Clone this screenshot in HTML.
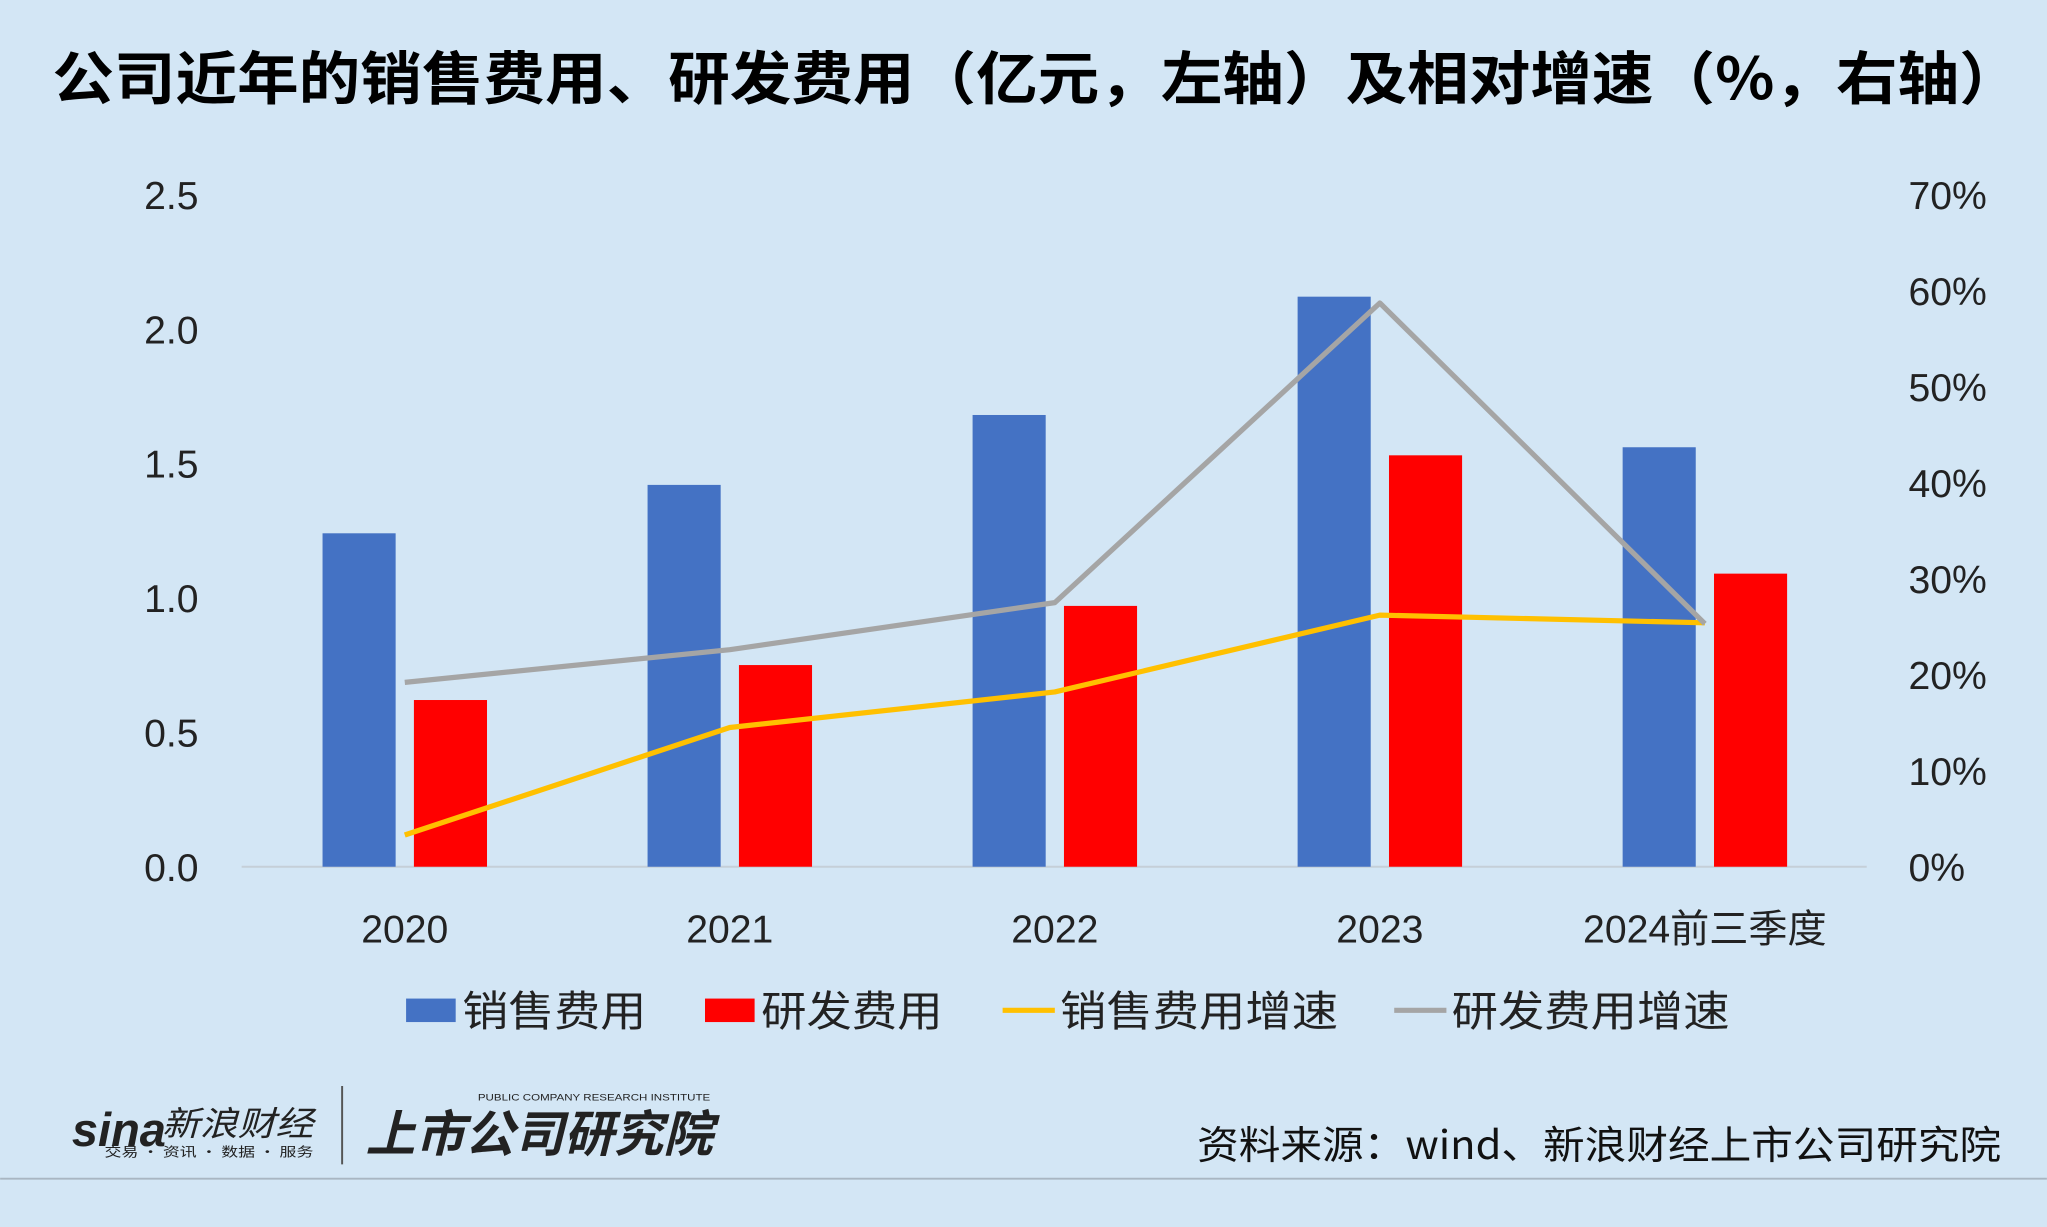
<!DOCTYPE html>
<html><head><meta charset="utf-8">
<style>
html,body{margin:0;padding:0;background:#d3e6f5;}
svg{display:block;font-family:"Liberation Sans","Noto Sans CJK SC",sans-serif;}
</style></head>
<body>
<svg id="chart" width="2047" height="1227" viewBox="0 0 1568 940" xmlns="http://www.w3.org/2000/svg">
<rect x="0" y="0" width="1568" height="940" fill="#d3e6f5"/>
<text x="40" y="76" textLength="1508" lengthAdjust="spacingAndGlyphs" font-size="44" font-weight="bold" fill="#000" font-family="'Noto Sans CJK SC',sans-serif">公司近年的销售费用、研发费用（亿元，左轴）及相对增速（%，右轴）</text>
<g id="plot"></g>
<g font-size="32" font-family="'Noto Sans CJK SC',sans-serif" fill="#222">
  <rect x="311" y="765" width="38" height="18" fill="#4472c4"/>
  <text x="354" y="786" textLength="141" lengthAdjust="spacingAndGlyphs">销售费用</text>
  <rect x="540" y="765" width="38" height="18" fill="#ff0000"/>
  <text x="583" y="786" textLength="139" lengthAdjust="spacingAndGlyphs">研发费用</text>
  <line x1="768" y1="774" x2="808" y2="774" stroke="#ffc000" stroke-width="4"/>
  <text x="812" y="786" textLength="213" lengthAdjust="spacingAndGlyphs">销售费用增速</text>
  <line x1="1068" y1="774" x2="1108" y2="774" stroke="#a5a5a5" stroke-width="4"/>
  <text x="1112" y="786" textLength="213" lengthAdjust="spacingAndGlyphs">研发费用增速</text>
</g>
<line x1="0" y1="903" x2="1568" y2="903" stroke="#a9b6c2" stroke-width="1.5"/>
<text x="55" y="878" font-size="36" font-weight="bold" font-style="italic" fill="#222">sina</text>
<text x="124" y="870" textLength="116" lengthAdjust="spacingAndGlyphs" font-size="26" font-style="italic" fill="#222" font-family="'Noto Sans CJK SC',sans-serif">新浪财经</text>
<text x="80" y="886" textLength="160" lengthAdjust="spacingAndGlyphs" font-size="10" fill="#222" font-family="'Noto Sans CJK SC',sans-serif">交易 · 资讯 · 数据 · 服务</text>
<line x1="262" y1="832" x2="262" y2="892" stroke="#555" stroke-width="1.5"/>
<text x="366" y="843" textLength="178" lengthAdjust="spacingAndGlyphs" font-size="7" fill="#222">PUBLIC COMPANY RESEARCH INSTITUTE</text>
<text x="280" y="882" textLength="266" lengthAdjust="spacingAndGlyphs" font-size="38" font-weight="bold" font-style="italic" fill="#222" font-family="'Noto Sans CJK SC',sans-serif">上市公司研究院</text>
<text x="917" y="888" textLength="616" lengthAdjust="spacingAndGlyphs" font-size="30" fill="#111" font-family="'Noto Sans CJK SC',sans-serif">资料来源：wind、新浪财经上市公司研究院</text>
</svg>
<script>
const categories = ["2020","2021","2022","2023","2024前三季度"];
const salesExpense = [1.24, 1.42, 1.68, 2.12, 1.56];
const rdExpense = [0.62, 0.75, 0.97, 1.53, 1.09];
const salesGrowth = [3.3, 14.5, 18.2, 26.2, 25.4];
const rdGrowth = [19.2, 22.6, 27.5, 58.7, 25.3];
const leftTicks = ["0.0","0.5","1.0","1.5","2.0","2.5"];
const rightTicks = ["0%","10%","20%","30%","40%","50%","60%","70%"];

const NS = "http://www.w3.org/2000/svg";
const plot = document.getElementById("plot");
const y0 = 664, yTop = 149;
const yL = v => y0 - v / 2.5 * (y0 - yTop);
const yR = v => y0 - v / 70 * (y0 - yTop);
const xC = i => 310 + i * 249;
function mk(tag, attrs, text) {
  const e = document.createElementNS(NS, tag);
  for (const k in attrs) e.setAttribute(k, attrs[k]);
  if (text !== undefined) e.textContent = text;
  plot.appendChild(e);
  return e;
}
let e = mk("line", {x1:185, y1:y0, x2:1430, y2:y0, stroke:"#c5cfd8", "stroke-width":1.5});


leftTicks.forEach((t, i) => {
  const el = mk("text", {x:152, y:yL(parseFloat(t)) + 11, "text-anchor":"end", "font-size":30, fill:"#222"}, t);
  
  
});
rightTicks.forEach((t, i) => {
  const el = mk("text", {x:1462, y:yR(parseFloat(t)) + 11, "font-size":30, fill:"#222"}, t);
  
  
});
categories.forEach((c, i) => {
  const el = mk("text", {x:xC(i), y:722, "text-anchor":"middle", "font-size":30, fill:"#222", "font-family":"'Liberation Sans','Noto Sans CJK SC',sans-serif"}, c);
  
  
  const b1 = mk("rect", {x:xC(i) - 63, y:yL(salesExpense[i]), width:56, height:y0 - yL(salesExpense[i]), fill:"#4472c4"});
  
  
  const b2 = mk("rect", {x:xC(i) + 7, y:yL(rdExpense[i]), width:56, height:y0 - yL(rdExpense[i]), fill:"#ff0000"});
  
  
});
const l1 = mk("polyline", {points: salesGrowth.map((v, i) => xC(i) + "," + yR(v)).join(" "), fill:"none", stroke:"#ffc000", "stroke-width":4, "stroke-linejoin":"round"});


const l2 = mk("polyline", {points: rdGrowth.map((v, i) => xC(i) + "," + yR(v)).join(" "), fill:"none", stroke:"#a5a5a5", "stroke-width":4, "stroke-linejoin":"round"});


</script>
</body></html>
